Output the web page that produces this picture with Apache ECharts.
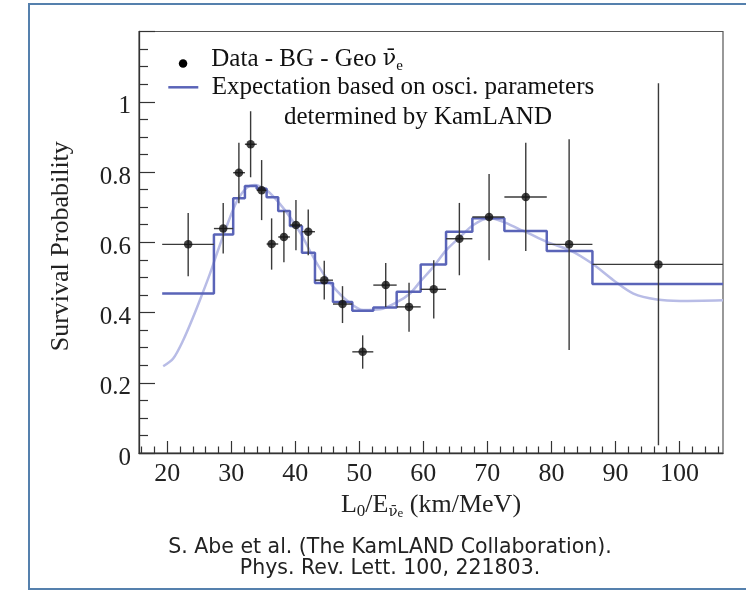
<!DOCTYPE html>
<html><head><meta charset="utf-8">
<script src="https://cdn.jsdelivr.net/npm/echarts@6/dist/echarts.min.js"></script>
<style>html,body{margin:0;padding:0;background:#fff}#c{width:746px;height:590px}</style>
</head><body><div id="c"></div>
<script>
// ---- data ----
const binEdges = [19.22, 27.30, 30.31, 32.14, 33.98, 35.53, 37.34, 39.17, 41.05, 43.08, 45.89, 48.91, 52.19, 55.84, 59.59, 63.55, 67.66, 72.66, 79.28, 86.41, 106.8];
const dataX = [23.28, 28.75, 31.20, 33.03, 34.75, 36.31, 38.23, 40.11, 42.03, 44.53, 47.38, 50.53, 54.13, 57.77, 61.63, 65.63, 70.27, 76.00, 82.77, 96.72];
const dataY = [0.594, 0.639, 0.798, 0.879, 0.748, 0.595, 0.615, 0.649, 0.630, 0.492, 0.424, 0.288, 0.478, 0.416, 0.466, 0.610, 0.672, 0.729, 0.594, 0.537];
const errLow = [0.503, 0.568, 0.711, 0.785, 0.663, 0.522, 0.543, 0.577, 0.563, 0.437, 0.370, 0.240, 0.416, 0.345, 0.383, 0.506, 0.549, 0.575, 0.293, 0.022];
const errHigh = [0.683, 0.712, 0.883, 0.973, 0.834, 0.668, 0.689, 0.720, 0.693, 0.547, 0.475, 0.335, 0.541, 0.485, 0.549, 0.712, 0.794, 0.883, 0.893, 1.053];
const expected = [0.454, 0.622, 0.725, 0.760, 0.752, 0.728, 0.689, 0.646, 0.570, 0.484, 0.430, 0.405, 0.414, 0.459, 0.537, 0.630, 0.668, 0.632, 0.575, 0.481];
const curveX = [19.38, 20.94, 22.5, 24.06, 25.38, 26.67, 27.9, 29.28, 30.84, 32.4, 33.7, 35.53, 37.34, 39.17, 41.0, 42.8, 44.38, 45.94, 48.03, 50.63, 53.23, 55.94, 57.92, 59.48, 61.56, 63.55, 65.73, 67.81, 70.27, 72.5, 75.1, 76.16, 79.28, 82.92, 86.31, 89.69, 92.81, 96.47, 100.1, 106.8];
const curveY = [0.247, 0.269, 0.321, 0.387, 0.448, 0.51, 0.575, 0.645, 0.715, 0.755, 0.763, 0.748, 0.715, 0.672, 0.62, 0.558, 0.511, 0.473, 0.435, 0.407, 0.409, 0.43, 0.454, 0.487, 0.53, 0.577, 0.615, 0.649, 0.668, 0.658, 0.636, 0.628, 0.601, 0.577, 0.54, 0.492, 0.454, 0.437, 0.433, 0.435];
const xMajorTicks = [20, 30, 40, 50, 60, 70, 80, 90, 100];
const xMinorTicks = [16, 18, 22, 24, 26, 28, 32, 34, 36, 38, 42, 44, 46, 48, 52, 54, 56, 58, 62, 64, 66, 68, 72, 74, 76, 78, 82, 84, 86, 88, 92, 94, 96, 98, 102, 104, 106];
const xMin = 15.6, xMax = 106.8;
const yMin = 0, yMax = 1.2, yStep = 0.2;

// ---- build series data ----
const stepData = binEdges.map((e, i) => [e, expected[Math.min(i, expected.length - 1)]]);
const curveData = curveX.map((x, i) => [x, curveY[i]]);
const pointData = dataX.map((x, i) => [x, dataY[i]]);
const errData = dataX.map((x, i) => [x, dataY[i], binEdges[i], binEdges[i + 1], errLow[i], errHigh[i]]);

const serif = 'Liberation Serif';
const nuFont = 'DejaVu Serif';
const chart = echarts.init(document.getElementById('c'));
const axisCol = '#333';
const stepCol = '#5a64b8';
chart.setOption({
  animation: false,
  backgroundColor: '#fff',
  grid: { left: 139, top: 31.5, right: 23, bottom: 137, show: true, borderColor: '#555', borderWidth: 1.2, containLabel: false },
  legend: [
    {
      data: ['Data - BG - Geo'], left: 178.8, top: 47, padding: 0, orient: 'vertical',
      itemWidth: 8.5, itemHeight: 8.5, icon: 'circle', selectedMode: false,
      itemStyle: { color: '#000', opacity: 1 },
      formatter: '{a|Data - BG - Geo }{n|ν\u0304}{s|e}',
      textStyle: { padding: [0, 0, 8, 19], rich: {
        a: { fontFamily: serif, fontSize: 25, color: '#111', lineHeight: 28 },
        n: { fontFamily: nuFont, fontSize: 22, color: '#111', lineHeight: 28 },
        s: { fontFamily: serif, fontSize: 15, color: '#111', lineHeight: 16, verticalAlign: 'bottom' }
      } }
    },
    {
      data: ['Expectation'], left: 168.3, top: 73.3, padding: 0,
      itemWidth: 30, itemHeight: 2.5, icon: 'rect', selectedMode: false,
      itemStyle: { color: stepCol },
      formatter: 'Expectation based on osci. parameters',
      textStyle: { fontFamily: serif, fontSize: 25, color: '#111', lineHeight: 28, padding: [0, 0, 0, 8.4] }
    }
  ],
  graphic: [
    { type: 'rect', shape: { x: 29, y: 4, width: 760, height: 585 }, style: { fill: 'none', stroke: '#5580ad', lineWidth: 2 }, silent: true },
    { type: 'text', left: 284, top: 105, style: { text: 'determined by KamLAND', font: '25px "Liberation Serif"', fill: '#111' } },
    { type: 'text', x: 390, y: 537, style: { text: 'S. Abe et al. (The KamLAND Collaboration).', font: '20.5px "DejaVu Sans"', fill: '#222', align: 'center', verticalAlign: 'top' } },
    { type: 'text', x: 390, y: 558, style: { text: 'Phys. Rev. Lett. 100, 221803.', font: '20.5px "DejaVu Sans"', fill: '#222', align: 'center', verticalAlign: 'top' } }
  ],
  xAxis: [
    {
      type: 'value', min: xMin, max: xMax, position: 'bottom',
      axisLine: { show: true, lineStyle: { color: axisCol, width: 1.3 } },
      splitLine: { show: false },
      axisTick: { show: true, inside: true, length: 12, customValues: xMajorTicks, lineStyle: { color: axisCol, width: 1.2 } },
      axisLabel: { customValues: xMajorTicks, fontFamily: serif, fontSize: 26, color: '#222', margin: 8 },
      name: '{m|L}{s|0}{m|/E}{n|ν\u0304}{ss|e}{m| (km/MeV)}',
      nameLocation: 'middle', nameGap: 24,
      nameTextStyle: { rich: {
        m: { fontFamily: serif, fontSize: 26, color: '#222', lineHeight: 30 },
        s: { fontFamily: serif, fontSize: 17, color: '#222', lineHeight: 20, verticalAlign: 'bottom' },
        n: { fontFamily: nuFont, fontSize: 15, color: '#222', lineHeight: 20, verticalAlign: 'bottom' },
        ss: { fontFamily: serif, fontSize: 13, color: '#222', lineHeight: 12, verticalAlign: 'bottom' }
      } }
    },
    {
      type: 'value', min: xMin, max: xMax, position: 'bottom',
      axisLine: { show: false }, splitLine: { show: false },
      axisTick: { show: true, inside: true, length: 6.5, customValues: xMinorTicks, lineStyle: { color: axisCol, width: 1.2 } },
      axisLabel: { show: false }
    }
  ],
  yAxis: {
    type: 'value', min: yMin, max: yMax, interval: yStep,
    axisLine: { show: true, lineStyle: { color: axisCol, width: 1.3 } },
    splitLine: { show: false },
    axisTick: { show: true, inside: true, length: 16, lineStyle: { color: axisCol, width: 1.2 } },
    minorTick: { show: true, splitNumber: 4, length: 9, lineStyle: { color: axisCol, width: 1.2 } },
    axisLabel: { fontFamily: serif, fontSize: 25, color: '#222', margin: 8, showMaxLabel: false, verticalAlign: 'top', lineHeight: 10 },
    name: 'Survival Probability', nameLocation: 'middle', nameGap: 65,
    nameTextStyle: { fontFamily: serif, fontSize: 26, color: '#222', padding: [0, 8, 0, 0] }
  },
  series: [
    {
      name: 'curve', type: 'line', data: curveData, showSymbol: false, symbol: 'none', smooth: 0.3,
      lineStyle: { color: '#b8bce6', width: 2.5 }, z: 1, silent: true
    },
    {
      name: 'Expectation', type: 'line', data: stepData, step: 'end', showSymbol: false, symbol: 'none',
      lineStyle: { color: stepCol, width: 2.5 }, itemStyle: { color: stepCol }, z: 2, silent: true
    },
    {
      name: 'errors', type: 'custom', data: errData, z: 3, silent: true,
      renderItem: function (params, api) {
        const x = api.value(0), y = api.value(1);
        const c = api.coord([x, y]);
        const l = api.coord([api.value(2), y]);
        const r = api.coord([api.value(3), y]);
        const lo = api.coord([x, api.value(4)]);
        const hi = api.coord([x, api.value(5)]);
        const st = { stroke: '#3a3a3a', lineWidth: 1.4 };
        return { type: 'group', children: [
          { type: 'line', shape: { x1: l[0], y1: c[1], x2: r[0], y2: c[1] }, style: st },
          { type: 'line', shape: { x1: c[0], y1: hi[1], x2: c[0], y2: lo[1] }, style: st }
        ] };
      }
    },
    {
      name: 'Data - BG - Geo', type: 'scatter', data: pointData, symbol: 'circle', symbolSize: 8.5,
      itemStyle: { color: '#111' }, z: 4, silent: true
    }
  ]
});
</script></body></html>
